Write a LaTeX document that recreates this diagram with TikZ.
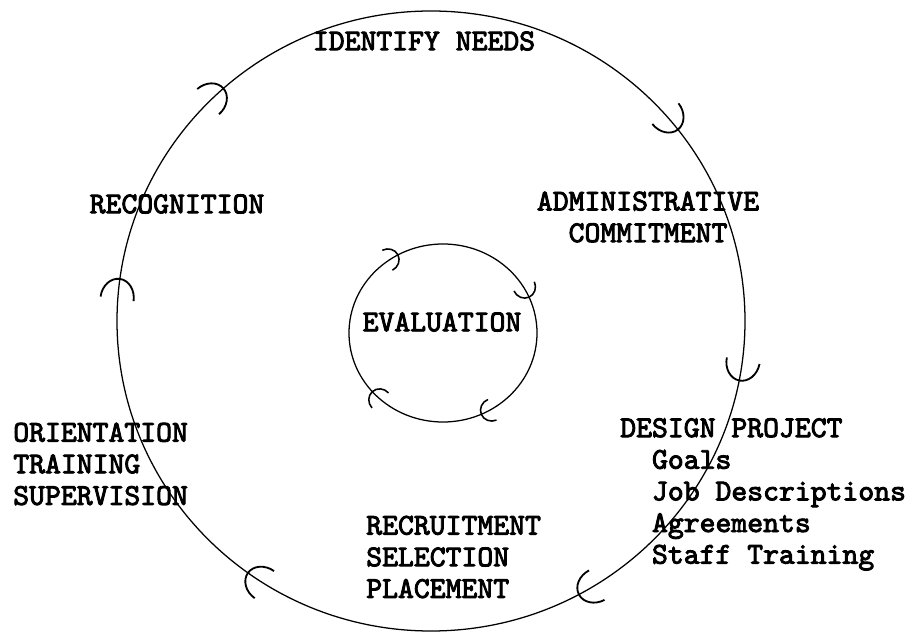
\documentclass[tikz,border=0pt]{standalone}
\usepackage{fontspec}
\setmonofont{lmmono10-regular.otf}[FakeBold=3]
\usetikzlibrary{arrows.meta,decorations.markings}

\tikzset{
  bigbarb/.tip={Arc Barb[length=15pt,width=25pt,line width=1.3pt]},
  smallbarb/.tip={Arc Barb[length=9pt,width=17pt,line width=1.1pt]},
  ring/.style={line width=0.9pt},
  stage/.style={font=\ttfamily\fontsize{21.5}{22.5}\selectfont,inner sep=0pt}
}

\begin{document}
\begin{tikzpicture}[x=0.025cm,y=0.025cm]
\path[fill=white,use as bounding box] (0,0) rectangle (908,633);

\coordinate (outer) at (431,312);
\coordinate (inner) at (443,300);

% outer cycle, running clockwise
\draw[ring,postaction={decorate},decoration={markings,
    mark=at position 0.022 with {\arrow{bigbarb}},
    mark=at position 0.135 with {\arrow{bigbarb}},
    mark=at position 0.395 with {\arrow{bigbarb}},
    mark=at position 0.531 with {\arrow{bigbarb}},
    mark=at position 0.672 with {\arrow{bigbarb}},
    mark=at position 0.850 with {\arrow{bigbarb}}}]
  (outer) ++(180:314 and 310) arc[start angle=180,end angle=-180,x radius=314,y radius=310];

% inner cycle
\draw[ring,postaction={decorate},decoration={markings,
    mark=at position 0.170 with {\arrow{smallbarb}},
    mark=at position 0.437 with {\arrow{smallbarb}},
    mark=at position 0.683 with {\arrow{smallbarb}},
    mark=at position 0.889 with {\arrow{smallbarb}}}]
  (inner) ++(180:94 and 89) arc[start angle=180,end angle=-180,x radius=94,y radius=89];

\node[stage] (needs) at (424,592) {IDENTIFY NEEDS};
\node[stage,align=center] (admin) at (648,416) {ADMINISTRATIVE\\COMMITMENT};
\node[stage] (recog) at (177,429) {RECOGNITION};
\node[stage] (eval) at (442,311) {EVALUATION};
\node[stage,align=left,anchor=west] (orient) at (13,169) {ORIENTATION\\TRAINING\\SUPERVISION};
\node[stage,align=left,anchor=west] (recruit) at (366,76) {RECRUITMENT\\SELECTION\\PLACEMENT};
\node[stage,align=left,anchor=north west] (design) at (620,215)
  {DESIGN PROJECT\\\ \ Goals\\\ \ Job Descriptions\\\ \ Agreements\\\ \ Staff Training};
\end{tikzpicture}
\end{document}
